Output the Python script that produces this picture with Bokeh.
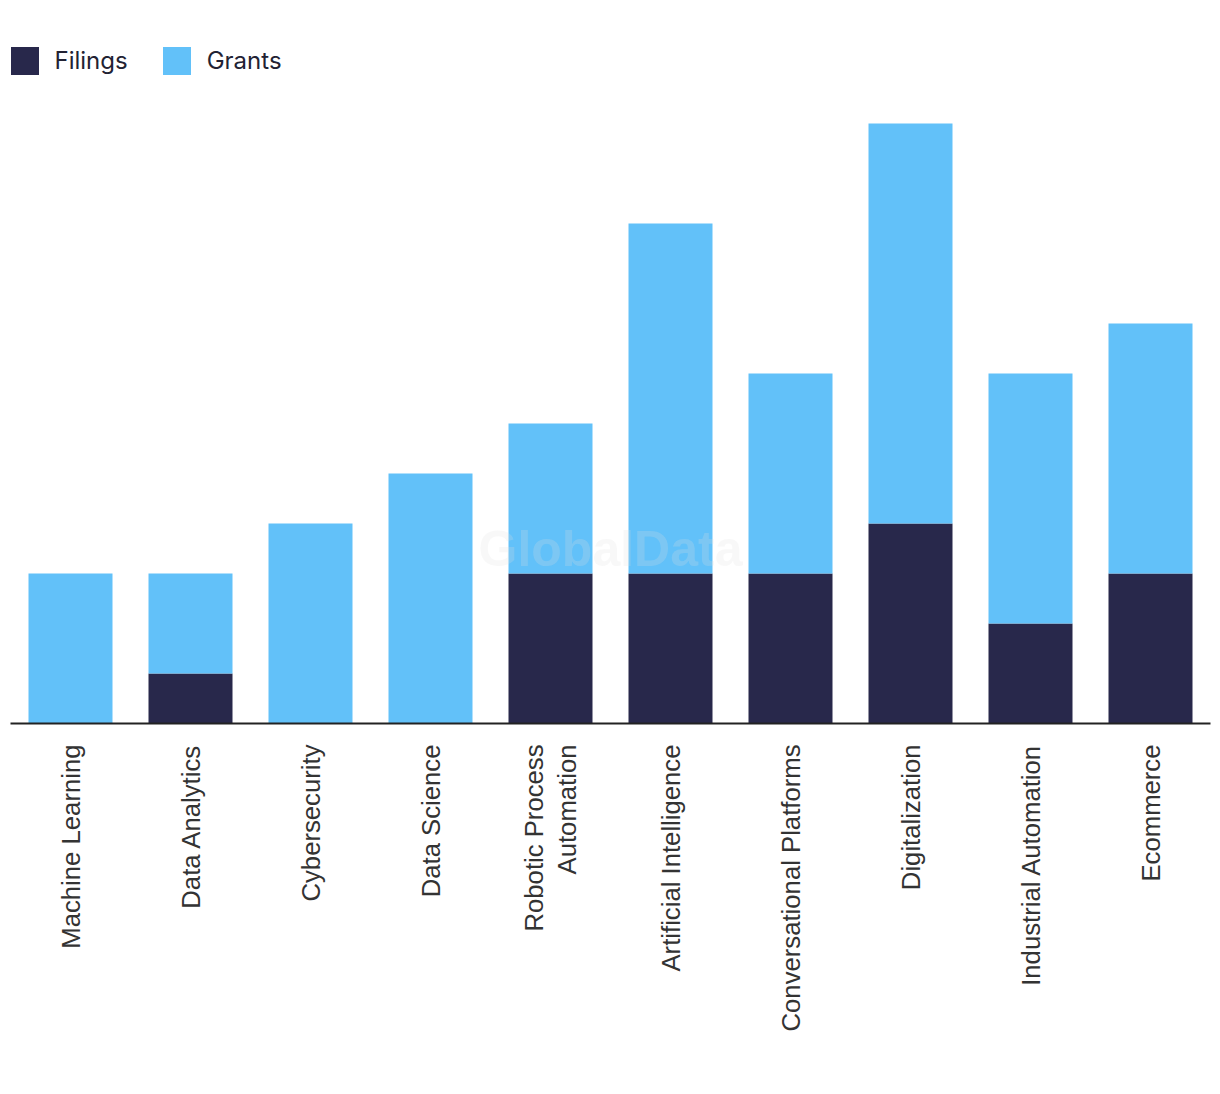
from bokeh.plotting import figure
from bokeh.models import ColumnDataSource, Legend, LegendItem, Label, FactorRange
from bokeh.embed import file_html
from bokeh.resources import INLINE

categories = ["Machine Learning", "Data Analytics", "Cybersecurity", "Data Science",
              "Robotic Process\nAutomation", "Artificial Intelligence",
              "Conversational Platforms", "Digitalization", "Industrial Automation", "Ecommerce"]
filings = [0, 1, 0, 0, 3, 3, 3, 4, 2, 3]
grants = [3, 2, 4, 5, 3, 7, 4, 8, 5, 5]

series = ["Filings", "Grants"]
colors = ["#28284b", "#62c1f9"]

source = ColumnDataSource(dict(cat=categories, Filings=filings, Grants=grants))

p = figure(x_range=FactorRange(*categories, range_padding=0), y_range=(0, 13.54),
           width=1212, height=1088, output_backend="svg", toolbar_location=None,
           min_border_left=10, min_border_right=2, min_border_top=46, min_border_bottom=365)

r = p.vbar_stack(series, x="cat", width=0.7, color=colors, source=source, line_width=0)

p.xgrid.visible = False
p.ygrid.visible = False
p.yaxis.visible = False
p.outline_line_color = None
p.xaxis.axis_line_color = "#222222"
p.xaxis.axis_line_width = 2
p.xaxis.major_tick_line_color = None
p.xaxis.minor_tick_line_color = None
p.xaxis.major_label_orientation = 1.5708
p.xaxis.major_label_standoff = 15
p.xaxis.major_label_text_font = "Liberation Sans"
p.xaxis.major_label_text_font_size = "25.7px"
p.xaxis.major_label_text_color = "#333333"

legend = Legend(items=[LegendItem(label=s, renderers=[rr]) for s, rr in zip(series, r)],
                location=(-3.5, 645.5), orientation="horizontal", margin=0, padding=0,
                glyph_width=35, glyph_height=35, label_standoff=13, spacing=31,
                label_text_font="Inter", label_text_font_size="24px",
                label_text_color="#222233", border_line_color=None, background_fill_alpha=0)
p.add_layout(legend)

wm = Label(x=5.0, y=3.5, text="GlobalData", text_align="center", text_baseline="middle",
           text_font="Liberation Sans", text_font_style="bold", text_font_size="50px",
           text_color="#dddddd", text_alpha=0.22)
p.add_layout(wm)

open("out.html", "w").write(file_html(p, INLINE))
